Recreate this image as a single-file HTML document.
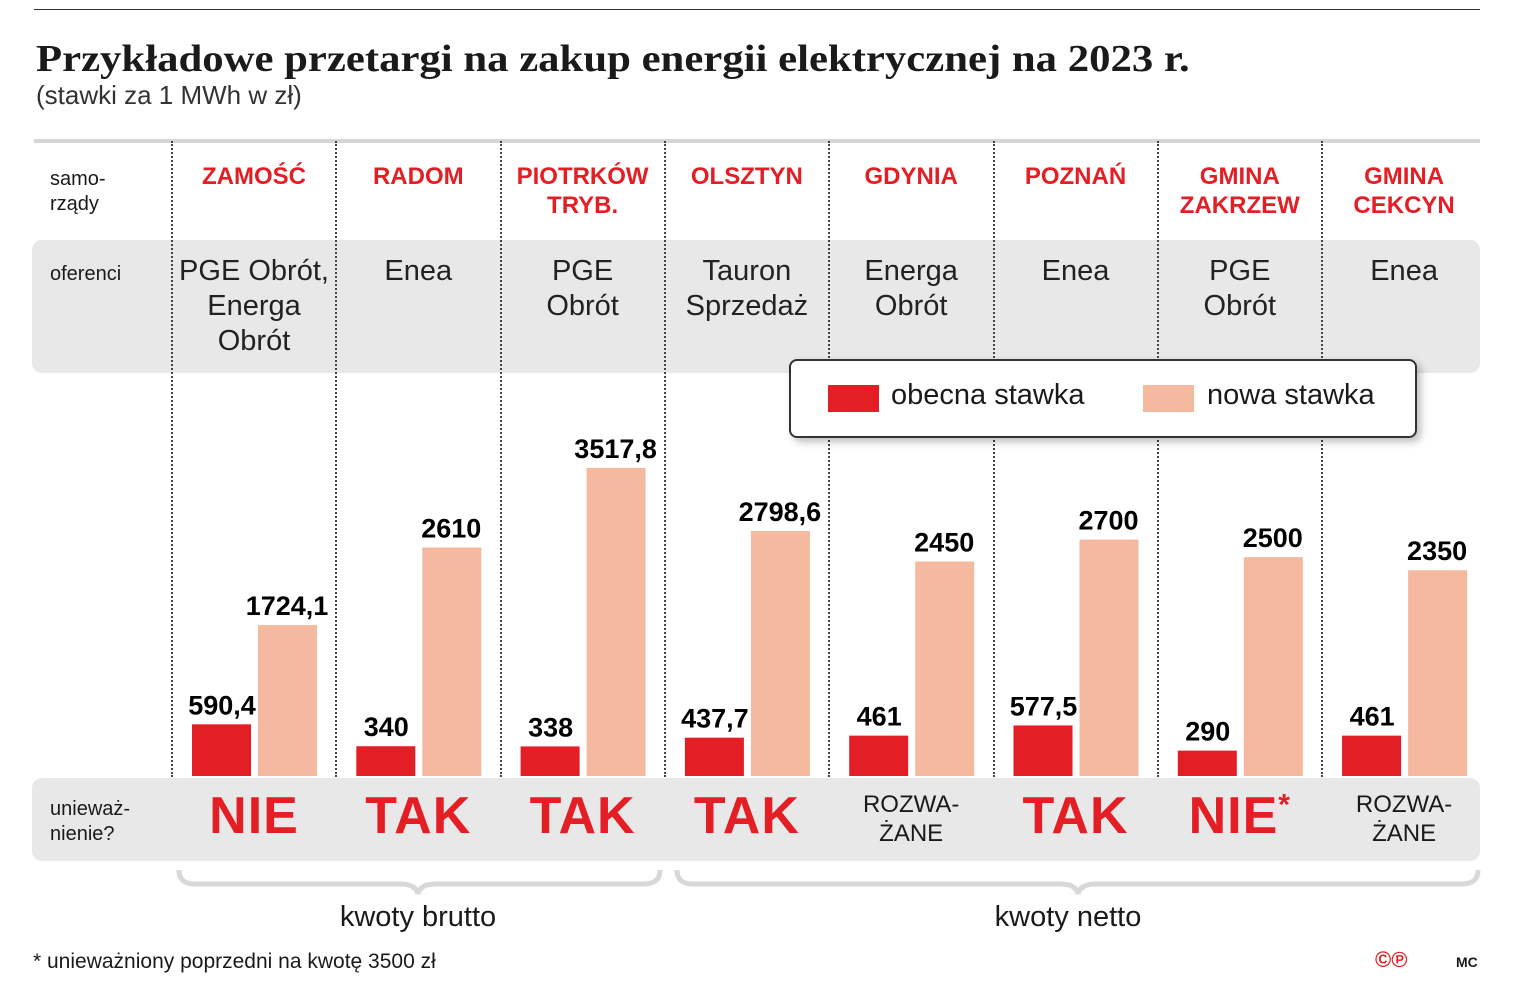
<!DOCTYPE html>
<html><head><meta charset="utf-8">
<style>
body{margin:0;width:1525px;height:984px;background:#fff;position:relative;overflow:hidden;font-family:"Liberation Sans","DejaVu Sans",sans-serif;color:#1a1a1a}
.a{position:absolute}
.hdr{color:#e31e24;font-weight:bold;font-size:24px;text-align:center;width:164px;line-height:29px}
.of{font-size:29px;text-align:center;width:164px;line-height:35px;color:#222}
.big{color:#e31e24;font-weight:bold;font-size:52px;text-align:center;width:164px;letter-spacing:1px}
.sm{font-size:24px;text-align:center;width:164px;line-height:29px}
.lab{font-size:20px;line-height:25px}
.sep{position:absolute;top:141px;height:636px;width:0;border-left:2px dotted #444}
</style></head><body>
<div class="a" style="left:34px;top:9px;width:1446px;height:1px;background:#333"></div>
<div class="a" style="left:36px;top:37px;font-family:'Liberation Serif',serif;font-weight:bold;font-size:38px;transform:scaleX(1.125);transform-origin:0 0;white-space:nowrap">Przykładowe przetargi na zakup energii elektrycznej na 2023 r.</div>
<div class="a" style="left:36px;top:80px;font-size:26px;color:#333">(stawki za 1 MWh w zł)</div>
<div class="a" style="left:34px;top:139px;width:1446px;height:4px;background:#d6d6d6"></div>
<div class="a" style="left:32px;top:240px;width:1448px;height:133px;background:#e8e8e8;border-radius:10px"></div>
<div class="a" style="left:32px;top:778px;width:1448px;height:83px;background:#e8e8e8;border-radius:10px"></div>
<div class="a lab" style="left:50px;top:167px">samo-<br>rządy</div>
<div class="a lab" style="left:50px;top:262px">oferenci</div>
<div class="a lab" style="left:50px;top:797px">unieważ-<br>nienie?</div>
<div id="cols"></div>
<svg class="a" style="left:0;top:0" width="1525" height="984" id="chart"></svg>
<div class="a" style="left:789px;top:359px;width:624px;height:75px;background:#fff;border:2px solid #333;border-radius:8px;box-shadow:4px 4px 8px rgba(0,0,0,0.25)">
 <div class="a" style="left:37px;top:24px;width:51px;height:27px;background:#e31e24"></div>
 <div class="a" style="left:100px;top:18px;font-size:29px">obecna stawka</div>
 <div class="a" style="left:352px;top:24px;width:51px;height:27px;background:#f5b9a0"></div>
 <div class="a" style="left:416px;top:18px;font-size:29px">nowa stawka</div>
</div>
<svg class="a" style="left:0;top:860px" width="1525" height="40">
 <path d="M179 10 Q179 24 195 24 L400 24 Q416 24 418 34 Q420 24 436 24 L644 24 Q660 24 660 10" fill="none" stroke="#d8d8d8" stroke-width="5"/>
 <path d="M677 10 Q677 24 693 24 L1060 24 Q1076 24 1078 34 Q1080 24 1096 24 L1462 24 Q1478 24 1478 10" fill="none" stroke="#d8d8d8" stroke-width="5"/>
</svg>
<div class="a" style="left:318px;top:901px;width:200px;text-align:center;font-size:29px">kwoty brutto</div>
<div class="a" style="left:968px;top:901px;width:200px;text-align:center;font-size:29px">kwoty netto</div>
<div class="a" style="left:33px;top:950px;font-size:21px">* unieważniony poprzedni na kwotę 3500 zł</div>
<div class="a" style="left:1375px;top:947px;font-size:22px;color:#e31e24;font-weight:bold">©℗</div>
<div class="a" style="left:1456px;top:954px;font-size:14px;font-weight:bold">MC</div>
<script>
const cities=["ZAMOŚĆ","RADOM","PIOTRKÓW<br>TRYB.","OLSZTYN","GDYNIA","POZNAŃ","GMINA<br>ZAKRZEW","GMINA<br>CEKCYN"];
const offerers=["PGE Obrót,<br>Energa<br>Obrót","Enea","PGE<br>Obrót","Tauron<br>Sprzedaż","Energa<br>Obrót","Enea","PGE<br>Obrót","Enea"];
const currentRate=[590.4,340,338,437.7,461,577.5,290,461];
const newRate=[1724.1,2610,3517.8,2798.6,2450,2700,2500,2350];
const currentLabels=["590,4","340","338","437,7","461","577,5","290","461"];
const newLabels=["1724,1","2610","3517,8","2798,6","2450","2700","2500","2350"];
const cancelled=["NIE","TAK","TAK","TAK","ROZWA-<br>ŻANE","TAK","NIE<sup style='font-size:30px'>*</sup>","ROZWA-<br>ŻANE"];
const x0=172,colW=164.3,baseY=776,pxPerUnit=308/3517.8;
const colX=i=>x0+i*colW;
const yH=v=>v*pxPerUnit;
const cols=document.getElementById('cols');
const svg=document.getElementById('chart');
const NS="http://www.w3.org/2000/svg";
for(let i=0;i<cities.length;i++){
  const s=document.createElement('div');s.className='sep';s.style.left=(colX(i)-1)+'px';
  
  
  cols.appendChild(s);
  const h=document.createElement('div');h.className='a hdr';h.style.left=colX(i)+'px';h.style.top='162px';h.innerHTML=cities[i];
  
  
  cols.appendChild(h);
  const o=document.createElement('div');o.className='a of';o.style.left=colX(i)+'px';o.style.top='254px';o.innerHTML=offerers[i];
  
  
  cols.appendChild(o);
  const c=document.createElement('div');
  if(cancelled[i].indexOf('ROZWA')===0){c.className='a sm';c.style.top='790px';}else{c.className='a big';c.style.top='786px';}
  c.style.left=colX(i)+'px';c.innerHTML=cancelled[i];
  
  
  cols.appendChild(c);
  const cx=colX(i)+82;
  const r=document.createElementNS(NS,'rect');
  r.setAttribute('x',cx-62);r.setAttribute('width',59);r.setAttribute('y',baseY-yH(currentRate[i]));r.setAttribute('height',yH(currentRate[i]));r.setAttribute('fill','#e31e24');
  
  
  svg.appendChild(r);
  const p=document.createElementNS(NS,'rect');
  p.setAttribute('x',cx+4);p.setAttribute('width',59);p.setAttribute('y',baseY-yH(newRate[i]));p.setAttribute('height',yH(newRate[i]));p.setAttribute('fill','#f5b9a0');
  
  
  svg.appendChild(p);
  const t1=document.createElementNS(NS,'text');
  t1.setAttribute('x',cx-32);t1.setAttribute('y',baseY-yH(currentRate[i])-10);t1.setAttribute('text-anchor','middle');t1.setAttribute('font-weight','bold');t1.setAttribute('font-size','27');t1.setAttribute('font-family','Liberation Sans, sans-serif');t1.textContent=currentLabels[i];
  
  
  svg.appendChild(t1);
  const t2=document.createElementNS(NS,'text');
  t2.setAttribute('x',cx+33);t2.setAttribute('y',baseY-yH(newRate[i])-10);t2.setAttribute('text-anchor','middle');t2.setAttribute('font-weight','bold');t2.setAttribute('font-size','27');t2.setAttribute('font-family','Liberation Sans, sans-serif');t2.textContent=newLabels[i];
  
  
  svg.appendChild(t2);
}
</script>
</body></html>
